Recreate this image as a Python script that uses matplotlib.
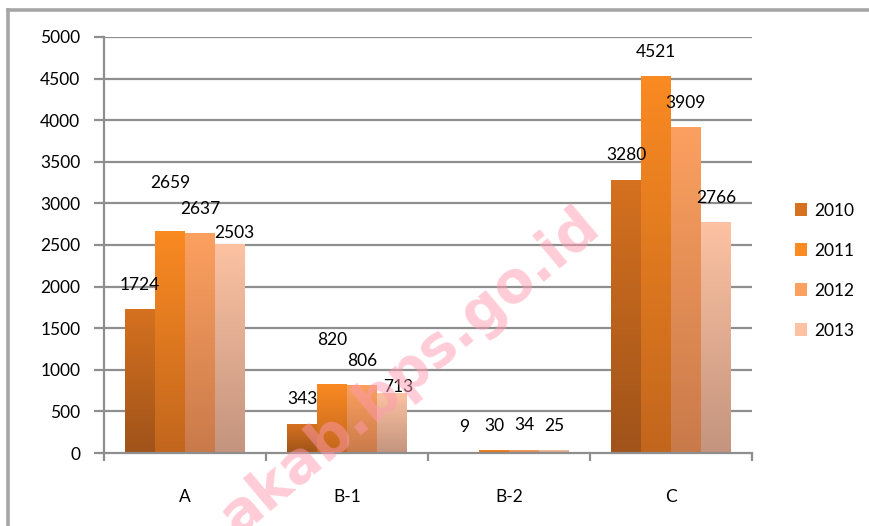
import matplotlib
matplotlib.use("Agg")
import matplotlib.pyplot as plt
import numpy as np
from matplotlib.colors import LinearSegmentedColormap
from matplotlib.patches import Patch

categories = ["A", "B-1", "B-2", "C"]
series_names = ["2010", "2011", "2012", "2013"]
v2010 = [1724, 343, 9, 3280]
v2011 = [2659, 820, 30, 4521]
v2012 = [2637, 806, 34, 3909]
v2013 = [2503, 713, 25, 2766]
series_values = [v2010, v2011, v2012, v2013]
y_ticks = [0, 500, 1000, 1500, 2000, 2500, 3000, 3500, 4000, 4500, 5000]

# style: gradient (top colour, bottom colour) per series
grad = [("#D5711F", "#A0531A"),
        ("#FA8A22", "#C2661D"),
        ("#FCA060", "#C97A4A"),
        ("#FCC2A2", "#C4947E")]
# label nudges (pixels) to avoid overlaps like the original
nudge = {(0, 1): (0, 24), (0, 3): (4, -13), (1, 1): (0, 20), (1, 3): (6, -18)}

plt.rcParams['font.family'] = ['Lato', 'DejaVu Sans']
W, H = 870, 526
fig = plt.figure(figsize=(W / 100, H / 100), dpi=100)
ax = fig.add_axes([104 / W, 1 - 453 / H, (752 - 104) / W, (453 - 37) / H])

x = np.arange(len(categories))
bw = 0.185

grid_col = "#8E8E8E"
for t in y_ticks[1:]:
    ax.axhline(t, color=grid_col, lw=1.6, zorder=1)

gradient = np.linspace(0, 1, 256).reshape(-1, 1)
for i, (name, vals) in enumerate(zip(series_names, series_values)):
    pos = x + (i - 1.5) * bw
    bars = ax.bar(pos, vals, width=bw, color="none", edgecolor="none", zorder=2)
    cmap = LinearSegmentedColormap.from_list("g%d" % i, [grad[i][1], grad[i][0]])
    for j, b in enumerate(bars):
        x0, w, h = b.get_x(), b.get_width(), b.get_height()
        ax.imshow(gradient, cmap=cmap, origin="lower", aspect="auto",
                  extent=(x0, x0 + w, 0, h), zorder=2, interpolation="bilinear")
        dx, dy = nudge.get((j, i), (0, 0))
        ax.annotate(str(vals[j]), (x0 + w / 2, h), xytext=(dx * 0.72, (17 + dy) * 0.72),
                    textcoords="offset points", ha="center", va="bottom",
                    fontsize=12.5, color="black", zorder=5)

ax.set_xlim(-0.5, len(categories) - 0.5)
ax.set_ylim(0, 5000)

for s in ["top", "right"]:
    ax.spines[s].set_visible(False)
for s in ["left", "bottom"]:
    ax.spines[s].set_color(grid_col)
    ax.spines[s].set_linewidth(1.6)

ax.set_yticks(y_ticks)
ax.set_yticklabels([str(t) for t in y_ticks])
ax.tick_params(axis="y", length=7, width=1.6, color=grid_col, labelsize=12.5, pad=10)
ax.set_xticks(np.arange(-0.5, len(categories)), minor=False)
ax.set_xticklabels([])
ax.set_xticks(x, minor=True)
ax.set_xticklabels(categories, minor=True)
ax.tick_params(axis="x", which="major", length=6, width=1.6, color=grid_col, direction="out")
ax.tick_params(axis="x", which="minor", length=0, labelsize=12.5, pad=26)

# legend
handles = [Patch(facecolor=grad[i][0], edgecolor="none") for i in range(4)]
leg = fig.legend(handles, series_names, loc="upper left",
                 bbox_to_anchor=(779 / W, 1 - 187 / H), frameon=False,
                 fontsize=12.5, handlelength=0.72, handleheight=0.72,
                 labelspacing=1.38, handletextpad=0.4)

# figure border (left and top)
fig.add_artist(plt.Line2D([8.5 / W, 8.5 / W], [0, 1 - 9.5 / H], transform=fig.transFigure,
                          color="#A6A6A6", lw=2.6))
fig.add_artist(plt.Line2D([8.5 / W, 1], [1 - 9.5 / H, 1 - 9.5 / H], transform=fig.transFigure,
                          color="#A6A6A6", lw=2.6))

# watermark
fig.text(410 / W, 1 - 372 / H, "akab.bps.go.id", rotation=40, ha="center", va="center",
         fontsize=41, fontweight="bold", color="#FF9AB0", alpha=0.5,
         family="DejaVu Sans", zorder=10)

fig.savefig("out.png", dpi=100)
